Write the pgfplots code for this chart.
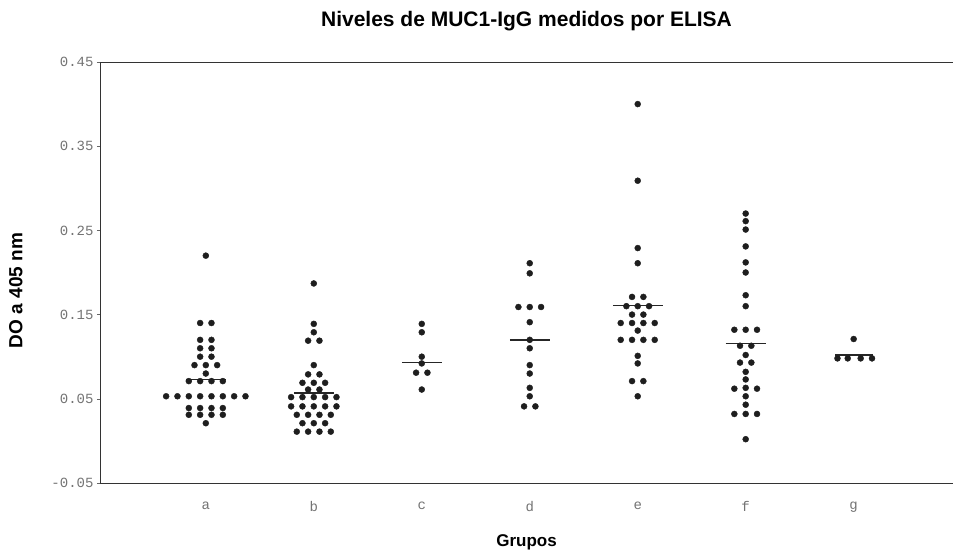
\documentclass[border=0pt]{standalone}
\usepackage{fontspec}
\setmainfont{Liberation Sans}
\newfontfamily\tickfont{Liberation Mono}
\usepackage{pgfplots}
\pgfplotsset{compat=1.18}
\definecolor{dotc}{HTML}{1E1E1E}
\begin{document}
\begin{tikzpicture}
\begin{axis}[
  name=ax,
  scale only axis,
  width=853pt, height=421pt,
  xmin=0.02, xmax=7.92,
  ymin=-0.05, ymax=0.45,
  axis x line*=box, axis y line*=left,
  axis line style={black!80, line width=0.6pt},
  xtick={1,2,3,4,5,6,7},
  xticklabels={a,b,c,d,e,f,g},
  ytick={-0.05,0.05,0.15,0.25,0.35,0.45},
  /pgf/number format/assume math mode=true,
  /pgf/number format/fixed, /pgf/number format/fixed zerofill, /pgf/number format/precision=2,
  yticklabel style={font=\tickfont\fontsize{14}{14}\selectfont, text=black!55},
  xticklabel style={font=\tickfont\fontsize{14}{14}\selectfont, text=black!55, yshift=-12pt},
  xtick style={draw=none},
  ytick style={black!60, line width=0.4pt},
  tick align=outside,
  major tick length=3pt,
  title={\bfseries Niveles de MUC1-IgG medidos por ELISA},
  title style={font=\fontsize{21}{21}\selectfont, yshift=22pt},
  xlabel={\bfseries Grupos},
  xlabel style={font=\fontsize{17}{17}\selectfont, yshift=-16pt},
  ylabel={\bfseries DO a 405 nm},
  ylabel style={font=\fontsize{19}{19}\selectfont, at={(ticklabel cs:0.457)}, yshift=22pt},
  clip=false,
]
% dots
\addplot[only marks, mark=*, mark size=3pt, color=dotc, mark options={draw=dotc, fill=dotc}] coordinates {
% group a
(1,0.22)
(0.9475,0.14)(1.0525,0.14)
(0.9475,0.12)(1.0525,0.12)
(0.9475,0.11)(1.0525,0.11)
(0.9475,0.10)(1.0525,0.10)
(0.895,0.09)(1,0.09)(1.105,0.09)
(1,0.08)
(0.8425,0.071)(0.9475,0.071)(1.0525,0.071)(1.1575,0.071)
(0.6325,0.053)(0.7375,0.053)(0.8425,0.053)(0.9475,0.053)(1.0525,0.053)(1.1575,0.053)(1.2625,0.053)(1.3675,0.053)
(0.8425,0.039)(0.9475,0.039)(1.0525,0.039)(1.1575,0.039)
(0.8425,0.031)(0.9475,0.031)(1.0525,0.031)(1.1575,0.031)
(1,0.021)
% group b
(2,0.187)
(2,0.139)(2,0.129)
(1.9475,0.119)(2.0525,0.119)
(2,0.090)
(1.9475,0.079)(2.0525,0.079)
(1.895,0.069)(2,0.069)(2.105,0.069)
(1.9475,0.061)(2.0525,0.061)
(1.79,0.052)(1.895,0.052)(2,0.052)(2.105,0.052)(2.21,0.052)
(1.79,0.041)(1.895,0.041)(2,0.041)(2.105,0.041)(2.21,0.041)
(1.8425,0.031)(1.9475,0.031)(2.0525,0.031)(2.1575,0.031)
(1.895,0.021)(2,0.021)(2.105,0.021)
(1.8425,0.011)(1.9475,0.011)(2.0525,0.011)(2.1575,0.011)
% group c
(3,0.139)(3,0.129)(3,0.100)(3,0.092)(2.9475,0.081)(3.0525,0.081)(3,0.061)
% group d
(4,0.211)(4,0.199)
(3.895,0.159)(4,0.159)(4.105,0.159)
(4,0.141)(4,0.120)(4,0.110)(4,0.090)(4,0.080)(4,0.063)(4,0.053)
(3.9475,0.041)(4.0525,0.041)
% group e
(5,0.400)(5,0.309)(5,0.229)(5,0.211)
(4.9475,0.171)(5.0525,0.171)
(4.895,0.160)(5,0.160)(5.105,0.160)
(4.9475,0.150)(5.0525,0.150)
(4.8425,0.140)(4.9475,0.140)(5.0525,0.140)(5.1575,0.140)
(5,0.131)
(4.8425,0.120)(4.9475,0.120)(5.0525,0.120)(5.1575,0.120)
(5,0.101)(5,0.092)
(4.9475,0.071)(5.0525,0.071)
(5,0.053)
% group f
(6,0.270)(6,0.261)(6,0.251)(6,0.231)(6,0.212)(6,0.200)(6,0.173)(6,0.160)
(5.895,0.132)(6,0.132)(6.105,0.132)
(5.9475,0.113)(6.0525,0.113)
(6,0.102)
(5.9475,0.093)(6.0525,0.093)
(6,0.082)(6,0.073)
(5.895,0.062)(6,0.063)(6.105,0.062)
(6,0.053)
(6,0.043)
(5.895,0.032)(6,0.032)(6.105,0.032)
(6,0.002)
% group g
(7,0.121)
(6.85,0.098)(6.945,0.098)(7.065,0.098)(7.17,0.098)
};
% median bars
\addplot[black!85, line width=1.4pt, unbounded coords=jump] coordinates {
(0.815,0.073)(1.185,0.073) (1,nan)
(1.815,0.057)(2.185,0.057) (2,nan)
(2.815,0.093)(3.185,0.093) (3,nan)
(3.815,0.120)(4.185,0.120) (4,nan)
(4.77,0.161)(5.23,0.161) (5,nan)
(5.815,0.116)(6.185,0.116) (6,nan)
(6.83,0.102)(7.18,0.102)
};
\end{axis}
\pgfresetboundingbox
\path[use as bounding box] ([xshift=-100pt,yshift=-70pt]ax.south west) rectangle ([yshift=62pt]ax.north east);
\end{tikzpicture}
\end{document}
